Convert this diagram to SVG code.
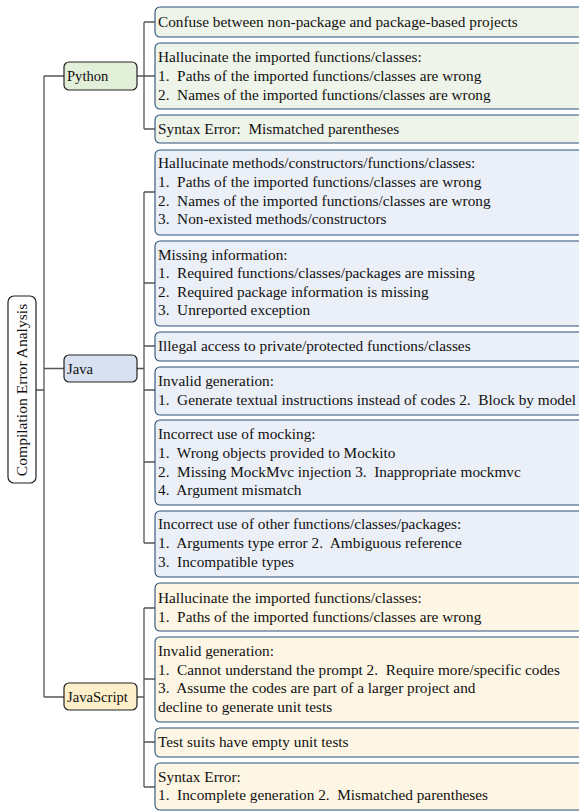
<svg xmlns="http://www.w3.org/2000/svg" width="579" height="812" viewBox="0 0 579 812">
<style>
text{font-family:"Liberation Serif","Times New Roman",serif;font-size:15.3px;fill:#111;white-space:pre}
.nt{font-size:14.6px}
.cat{stroke:#222;stroke-width:1.2}
.leaf{stroke:#2b4f78;stroke-width:1.1}
.py{fill:#e2efd9}.pyl{fill:#eff4ea}
.jv{fill:#d8e1f0}.jvl{fill:#ebeff7}
.js{fill:#fdefc9}.jsl{fill:#fef6e4}
.con{fill:none;stroke:#555;stroke-width:1.3}
</style>
<g id="connectors" class="con">
<path d="M36 390H44M44 76V697M44 76H64M44 368.5H64M44 697H64"/>
<path d="M137 76H144M144 22V129M144 22H155M144 76H155M144 129H155"/>
<path d="M137 368.5H144M144 192V543M144 192H155M144 283H155M144 346H155M144 390H155M144 462H155M144 543H155"/>
<path d="M137 697H144M144 608V787M144 608H155M144 679H155M144 742H155M144 787H155"/>
</g>
<g id="root">
<rect x="8" y="296" width="28" height="187" rx="6" fill="#fff" class="cat"/>
<text x="22" y="390" transform="rotate(-90 22 390)" text-anchor="middle" dy="5" style="font-size:15.6px">Compilation Error Analysis</text>
</g>
<g id="python">
<rect x="64" y="62" width="73" height="28" rx="5" class="cat py"/>
<text class="nt" x="67" y="81">Python</text>
</g>
<g id="java">
<rect x="64" y="355" width="73" height="27" rx="5" class="cat jv"/>
<text class="nt" x="67" y="373.5">Java</text>
</g>
<g id="javascript">
<rect x="64" y="683" width="73" height="27" rx="5" class="cat js"/>
<text class="nt" x="67" y="702">JavaScript</text>
</g>
<g id="py1"><rect x="155" y="7" width="440" height="30" rx="5" class="leaf pyl"/>
<text x="158" y="27">Confuse between non-package and package-based projects</text></g>
<g id="py2"><rect x="155" y="43" width="440" height="66" rx="5" class="leaf pyl"/>
<text x="158" y="62">Hallucinate the imported functions/classes:</text>
<text x="158" y="81">1.  Paths of the imported functions/classes are wrong</text>
<text x="158" y="100">2.  Names of the imported functions/classes are wrong</text></g>
<g id="py3"><rect x="155" y="115" width="440" height="28" rx="5" class="leaf pyl"/>
<text x="158" y="134">Syntax Error:  Mismatched parentheses</text></g>
<g id="jv1"><rect x="155" y="150" width="440" height="85" rx="5" class="leaf jvl"/>
<text x="158" y="168">Hallucinate methods/constructors/functions/classes:</text>
<text x="158" y="187">1.  Paths of the imported functions/classes are wrong</text>
<text x="158" y="205.5">2.  Names of the imported functions/classes are wrong</text>
<text x="158" y="224">3.  Non-existed methods/constructors</text></g>
<g id="jv2"><rect x="155" y="241" width="440" height="85" rx="5" class="leaf jvl"/>
<text x="158" y="260">Missing information:</text>
<text x="158" y="278">1.  Required functions/classes/packages are missing</text>
<text x="158" y="297">2.  Required package information is missing</text>
<text x="158" y="315">3.  Unreported exception</text></g>
<g id="jv3"><rect x="155" y="332" width="440" height="29" rx="5" class="leaf jvl"/>
<text x="158" y="351">Illegal access to private/protected functions/classes</text></g>
<g id="jv4"><rect x="155" y="367" width="440" height="48" rx="5" class="leaf jvl"/>
<text x="158" y="386">Invalid generation:</text>
<text x="158" y="405">1.  Generate textual instructions instead of codes 2.  Block by model</text></g>
<g id="jv5"><rect x="155" y="420" width="440" height="85" rx="5" class="leaf jvl"/>
<text x="158" y="439">Incorrect use of mocking:</text>
<text x="158" y="458">1.  Wrong objects provided to Mockito</text>
<text x="158" y="477">2.  Missing MockMvc injection 3.  Inappropriate mockmvc</text>
<text x="158" y="495">4.  Argument mismatch</text></g>
<g id="jv6"><rect x="155" y="511" width="440" height="66" rx="5" class="leaf jvl"/>
<text x="158" y="529">Incorrect use of other functions/classes/packages:</text>
<text x="158" y="548">1.  Arguments type error 2.  Ambiguous reference</text>
<text x="158" y="567">3.  Incompatible types</text></g>
<g id="js1"><rect x="155" y="583" width="440" height="48" rx="5" class="leaf jsl"/>
<text x="158" y="603">Hallucinate the imported functions/classes:</text>
<text x="158" y="622">1.  Paths of the imported functions/classes are wrong</text></g>
<g id="js2"><rect x="155" y="637" width="440" height="85" rx="5" class="leaf jsl"/>
<text x="158" y="656">Invalid generation:</text>
<text x="158" y="675">1.  Cannot understand the prompt 2.  Require more/specific codes</text>
<text x="158" y="693">3.  Assume the codes are part of a larger project and</text>
<text x="158" y="712">decline to generate unit tests</text></g>
<g id="js3"><rect x="155" y="728" width="440" height="29" rx="5" class="leaf jsl"/>
<text x="158" y="747">Test suits have empty unit tests</text></g>
<g id="js4"><rect x="155" y="763" width="440" height="47" rx="5" class="leaf jsl"/>
<text x="158" y="782">Syntax Error:</text>
<text x="158" y="800">1.  Incomplete generation 2.  Mismatched parentheses</text></g>
</svg>
